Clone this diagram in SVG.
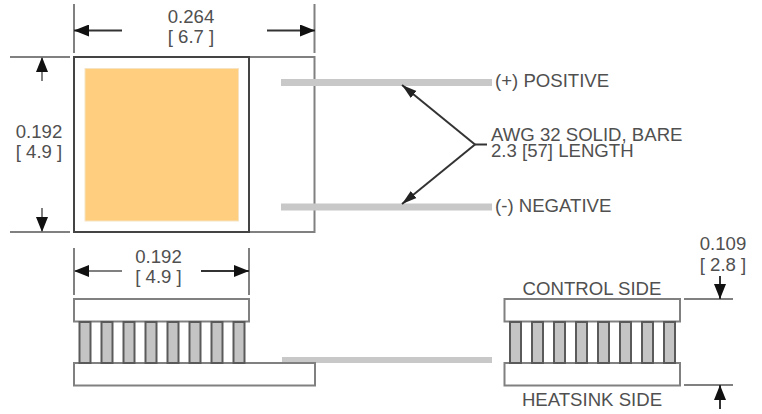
<svg xmlns="http://www.w3.org/2000/svg" width="762" height="414" viewBox="0 0 762 414">
<style>
text{font-family:"Liberation Sans",Arial,sans-serif;font-size:18.600px;fill:#505050}
.m{text-anchor:middle}
.dim{stroke:#808080;stroke-width:2;fill:none}
.ar{stroke:#333;stroke-width:2;fill:none}
.body{fill:#fff;stroke:#808080;stroke-width:2}
.pin{fill:#c4c4c4;stroke:#5a5a5a;stroke-width:2}
.wire{stroke:#c8c8c8;fill:none}
</style>
<defs>
<marker id="a" markerUnits="userSpaceOnUse" markerWidth="16" markerHeight="12" refX="15" refY="6" orient="auto"><path d="M0 0L15 6L0 12Z" fill="#111"/></marker>
<marker id="b" markerUnits="userSpaceOnUse" markerWidth="16" markerHeight="10" refX="15" refY="5" orient="auto"><path d="M0 .5L15 5L0 9.500Z" fill="#222"/></marker>
<g id="pins"><rect class="pin" x="0" y="0" width="11" height="41"/><rect class="pin" x="22" y="0" width="11" height="41"/><rect class="pin" x="44" y="0" width="11" height="41"/><rect class="pin" x="66" y="0" width="11" height="41"/><rect class="pin" x="88" y="0" width="11" height="41"/><rect class="pin" x="110" y="0" width="11" height="41"/><rect class="pin" x="132" y="0" width="11" height="41"/><rect class="pin" x="154" y="0" width="11" height="41"/></g>
</defs>
<g id="top-view">
<rect x="74" y="57" width="240.500" height="175" fill="#fff" stroke="#808080" stroke-width="2"/>
<rect x="74" y="57" width="175" height="175" fill="#fff" stroke="#444" stroke-width="2"/>
<rect x="85" y="68.500" width="153.500" height="152.500" fill="#ffcf7f" stroke="#f5e3c4" stroke-width="1"/>
</g>
<g id="wires">
<line class="wire" x1="281" y1="82.500" x2="492" y2="82.500" stroke-width="7"/>
<line class="wire" x1="281" y1="207" x2="492" y2="207" stroke-width="7"/>
</g>
<g id="side-view-left">
<line class="wire" x1="282" y1="360" x2="492" y2="360" stroke-width="6"/>
<rect class="body" x="74" y="299" width="175" height="22.500"/>
<rect class="body" x="74" y="363" width="241" height="22.500"/>
<use href="#pins" x="79.500" y="322"/>
</g>
<g id="side-view-right">
<rect class="body" x="504.500" y="299" width="175.500" height="22.500"/>
<rect class="body" x="504.500" y="363" width="175.500" height="22.500"/>
<use href="#pins" x="510" y="322"/>
</g>
<g id="connectors">
<path class="dim" d="M74 4V53M314.500 4V53M10 57H70M10 232H70M74 248V295M249 248V295M684 299H733M684 385H733"/>
<line class="ar" x1="122" y1="30.500" x2="74" y2="30.500" marker-end="url(#a)"/>
<line class="ar" x1="267" y1="30.500" x2="315" y2="30.500" marker-end="url(#a)"/>
<line class="dim" x1="42" y1="81" x2="42" y2="57" marker-end="url(#a)"/>
<line class="dim" x1="42" y1="208" x2="42" y2="232" marker-end="url(#a)"/>
<line class="dim" x1="122" y1="271" x2="74" y2="271" marker-end="url(#a)"/>
<line class="ar" x1="201" y1="271" x2="249" y2="271" marker-end="url(#a)"/>
<line class="ar" x1="720" y1="276" x2="720" y2="299" marker-end="url(#a)"/>
<line class="ar" x1="720" y1="409" x2="720" y2="385" marker-end="url(#a)"/>
<line class="ar" x1="475" y1="144.500" x2="402" y2="85" stroke-width="1.500" marker-end="url(#b)"/>
<line class="ar" x1="475" y1="144.500" x2="402" y2="204" stroke-width="1.500" marker-end="url(#b)"/>
<line class="ar" x1="475" y1="144.500" x2="487" y2="144.500" stroke-width="1.500"/>
</g>
<g id="labels">
<text class="m" x="191" y="23">0.264</text>
<text class="m" x="191" y="43">[ 6.7 ]</text>
<text class="m" x="39" y="138">0.192</text>
<text class="m" x="39" y="158">[ 4.9 ]</text>
<text class="m" x="158.500" y="263">0.192</text>
<text class="m" x="158.500" y="283">[ 4.9 ]</text>
<text class="m" x="723" y="250">0.109</text>
<text class="m" x="723" y="271">[ 2.8 ]</text>
<text x="495" y="86.500">(+) POSITIVE</text>
<text x="495" y="211.500">(-) NEGATIVE</text>
<text x="491" y="141">AWG 32 SOLID, BARE</text>
<text x="491" y="157">2.3 [57] LENGTH</text>
<text class="m" x="592" y="295">CONTROL SIDE</text>
<text class="m" x="592" y="406">HEATSINK SIDE</text>
</g>
</svg>
